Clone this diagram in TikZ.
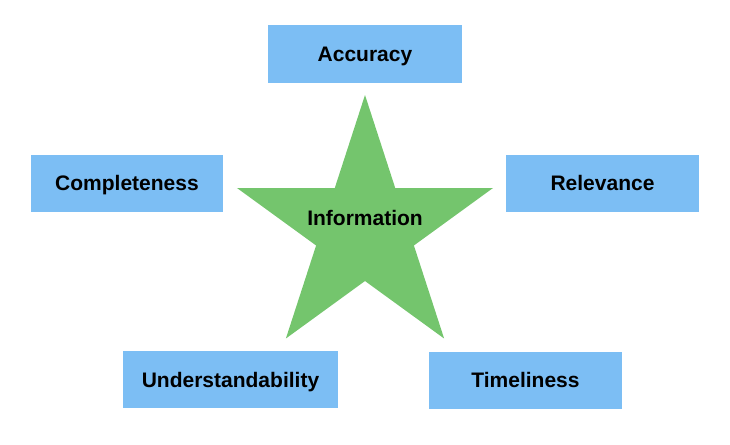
\documentclass[tikz,border=0pt]{standalone}
\usepackage{fontspec}
\setmainfont{Liberation Sans}
\usetikzlibrary{shapes.geometric}
\definecolor{boxblue}{HTML}{7CBEF4}
\definecolor{stargreen}{HTML}{74C56D}
\begin{document}
\begin{tikzpicture}[x=1pt,y=-1pt,
  txt/.style={font=\fontsize{21}{25}\selectfont\bfseries, text=black,
    text height=15pt, text depth=0pt},
  attr/.style={txt, fill=boxblue, draw=none, minimum height=57pt, inner sep=0pt},
  centre/.style={star, star points=5, star point ratio=2.618, fill=stargreen,
    draw=none, minimum size=269.2pt, inner sep=0pt, outer sep=0pt},
  caption/.style={txt, inner sep=0pt}]
  \useasboundingbox (0,0) rectangle (730,444);
  % central star with its caption
  \node[centre] (star) at (365,229.6) {};
  \node[caption] (info) at (365,218) {Information};
  % the five qualities around it
  \node[attr, minimum width=194pt] (acc) at (365,54) {Accuracy};
  \node[attr, minimum width=192pt] (comp) at (127,183) {Completeness};
  \node[attr, minimum width=193pt] (rel) at (602.5,183) {Relevance};
  \node[attr, minimum width=215pt] (und) at (230.5,379.5) {Understandability};
  \node[attr, minimum width=193pt] (time) at (525.5,380) {Timeliness};
\end{tikzpicture}
\end{document}
